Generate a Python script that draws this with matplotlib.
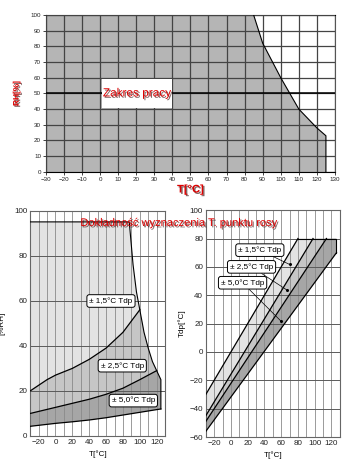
import numpy as np
import matplotlib
matplotlib.use("Agg")
import matplotlib.pyplot as plt
from matplotlib import patheffects as pe
from matplotlib.patches import Polygon, Rectangle

plt.rcParams['font.family'] = ['Liberation Sans', 'DejaVu Sans']

# --- top chart: working range ---
work_T = [-30, 85, 90, 100, 110, 120, 125, 125]
work_RH = [100, 100, 82, 60, 40, 28, 23, 0]

# --- bottom left: RH accuracy ---
bnd_T = [-30, 87.5, 92, 96, 100, 105, 110, 115, 120, 125, 125]
bnd_RH = [95, 95, 76, 64, 56, 46, 39, 33, 29, 25, 12]
up_T = [-30, -10, 0, 20, 40, 60, 80, 100]
up_RH = [20, 25, 27, 30, 34, 39, 46, 56]
mid_T = [-30, 0, 20, 40, 60, 80, 100, 120]
mid_RH = [10, 12.7, 14.5, 16.3, 18.5, 21.2, 25, 29]
low_T = [-30, 0, 20, 40, 60, 80, 100, 125]
low_RH = [4.3, 5.6, 6.3, 7.1, 8.1, 9.3, 10.5, 12]
rh_labels = ['± 1,5°C Tdp', '± 2,5°C Tdp', '± 5,0°C Tdp']
rh_lab_T = [65.8, 79.2, 92.3]
rh_lab_RH = [59.9, 31.2, 15.7]

# --- bottom right: Tdp bands (start T, start Tdp, end T, end Tdp) ---
l1 = [(-30, -30), (80, 80)]
l2 = [(-30, -45), (98, 80)]
l3 = [(-30, -49), (114, 80)]
l4 = [(-30, -56), (126, 70)]
corner = (126, 80)
tdp_lab_T = [34.5, 24.6, 13.9]
tdp_lab_Y = [71.8, 60, 48.8]
tdp_pt_T = [70, 67, 59.6]
tdp_pt_Y = [61.7, 43.6, 21.8]

red = '#dd0000'
shadow = [pe.withSimplePatchShadow(offset=(1.0, -1.0), shadow_rgbFace='#300000', alpha=0.6)]
narrow = ['Liberation Sans Narrow', 'DejaVu Sans Condensed', 'Liberation Sans']

fig = plt.figure(figsize=(3.5, 4.67), dpi=100)

# ================= top chart =================
ax = fig.add_axes([0.131, 0.632, 0.826, 0.336])
ax.fill(work_T + [-30], work_RH + [0], color='#b5b5b5', zorder=1, lw=0)
ax.plot(work_T[1:], work_RH[1:], color='k', lw=0.8, zorder=4)
ax.set_xlim(-30, 130)
ax.set_ylim(0, 100)
ax.set_xticks(range(-30, 131, 10))
ax.set_yticks(range(0, 101, 10))
ax.tick_params(labelsize=4.5, length=2, width=0.6, pad=1.5, colors='#222222')
ax.grid(True, color='#444444', lw=0.9, zorder=2)
ax.set_axisbelow(False)
ax.axhline(50, color='k', lw=1.1, zorder=3)
for s in ax.spines.values():
    s.set_color('#555555')
ax.spines['left'].set_color('k')
ax.spines['bottom'].set_color('k')
ax.spines['top'].set_color('k')
ax.add_patch(Rectangle((1, 41), 39, 18, fc='white', ec='none', zorder=5))
ax.text(20.3, 50, 'Zakres pracy', ha='center', va='center', fontsize=8.5,
        family=narrow, color=red, path_effects=shadow, zorder=6)
ax.set_ylabel('RH[%]', fontsize=6, color=red, family=narrow, fontweight='bold',
              path_effects=shadow, labelpad=7)
ax.set_xlabel('T[°C]', fontsize=8, color=red, family=narrow, fontweight='bold',
              path_effects=shadow, labelpad=2)

# ================= bottom left =================
ax1 = fig.add_axes([0.0863, 0.0664, 0.3854, 0.4826])
outer = list(zip(bnd_T, bnd_RH)) + list(zip(low_T, low_RH))[::-1]
ax1.add_patch(Polygon(outer, closed=True, fc='#e3e3e3', ec='none', zorder=1))
regB = list(zip(mid_T, mid_RH)) + [(115, 33), (110, 39), (105, 46)] + list(zip(up_T, up_RH))[::-1]
ax1.add_patch(Polygon(regB, closed=True, fc='#c6c6c6', ec='none', zorder=1))
regC = list(zip(low_T, low_RH)) + [(125, 25)] + list(zip(mid_T, mid_RH))[::-1]
ax1.add_patch(Polygon(regC, closed=True, fc='#a6a6a6', ec='none', zorder=1))
ax1.plot(bnd_T, bnd_RH, color='k', lw=0.8, zorder=4)
for xs, ys in [(up_T, up_RH), (mid_T, mid_RH), (low_T, low_RH)]:
    ax1.plot(xs, ys, color='k', lw=0.9, zorder=4)
ax1.set_xlim(-30, 130)
ax1.set_ylim(0, 100)
ax1.set_xticks(range(-20, 121, 20))
ax1.set_yticks(range(0, 101, 20))
for v in range(-30, 131, 10):
    ax1.axvline(v, color='#8a8a8a', lw=0.6, zorder=2)
for h in range(20, 100, 20):
    ax1.axhline(h, color='#5a5a5a', lw=0.7, zorder=2)
ax1.tick_params(labelsize=5.8, length=0, pad=2, colors='#222222')
for s in ax1.spines.values():
    s.set_color('#666666')
    s.set_linewidth(0.8)
for t, x, y in zip(rh_labels, rh_lab_T, rh_lab_RH):
    ax1.text(x, y, t, ha='center', va='center', fontsize=5.9, zorder=6,
             bbox=dict(boxstyle='round,pad=0.3,rounding_size=0.3', fc='white', ec='k', lw=0.7))
ax1.set_ylabel('[%RH]', fontsize=5.8, labelpad=6)
ax1.set_xlabel('T[°C]', fontsize=5.8, labelpad=3)

# ================= bottom right =================
ax2 = fig.add_axes([0.588, 0.0642, 0.383, 0.4858])
ax2.add_patch(Polygon([l1[0], l1[1], l2[1], l2[0]], closed=True, fc='#e3e3e3', ec='none', zorder=1))
ax2.add_patch(Polygon([l2[0], l2[1], l3[1], l3[0]], closed=True, fc='#c6c6c6', ec='none', zorder=1))
ax2.add_patch(Polygon([l3[0], l3[1], corner, l4[1], l4[0]], closed=True, fc='#a6a6a6', ec='none', zorder=1))
for ln in [l1, l2, l3, l4]:
    ax2.plot([ln[0][0], ln[1][0]], [ln[0][1], ln[1][1]], color='k', lw=0.9, zorder=4)
ax2.plot([l1[1][0], corner[0], l4[1][0]], [l1[1][1], corner[1], l4[1][1]], color='k', lw=0.8, zorder=4)
ax2.set_xlim(-30, 130)
ax2.set_ylim(-60, 100)
ax2.set_xticks(range(-20, 121, 20))
ax2.set_yticks(range(-60, 101, 20))
for v in range(-30, 131, 10):
    ax2.axvline(v, color='#8a8a8a', lw=0.6, zorder=2)
for h in range(-40, 100, 20):
    ax2.axhline(h, color='#5a5a5a', lw=0.7, zorder=2)
ax2.tick_params(labelsize=5.8, length=0, pad=2, colors='#222222')
for s in ax2.spines.values():
    s.set_color('#666666')
    s.set_linewidth(0.8)
for t, x, y, px, py in zip(rh_labels, tdp_lab_T, tdp_lab_Y, tdp_pt_T, tdp_pt_Y):
    ax2.annotate(t, xy=(px, py), xytext=(x, y), ha='center', va='center', fontsize=5.9, zorder=6,
                 bbox=dict(boxstyle='round,pad=0.3,rounding_size=0.3', fc='white', ec='k', lw=0.7),
                 arrowprops=dict(arrowstyle='-', color='k', lw=0.5, shrinkA=0, shrinkB=0))
    ax2.plot(px, py, 'o', color='k', ms=1.2, zorder=6)
ax2.set_ylabel('Tdp[°C]', fontsize=5.8, labelpad=3)
ax2.set_xlabel('T[°C]', fontsize=5.8, labelpad=3)

fig.text(0.513, 0.5225, 'Dokładność wyznaczenia T. punktu rosy', ha='center', va='center',
         fontsize=8, family=narrow, color=red, path_effects=shadow, zorder=10)

fig.savefig('out.png', dpi=100)
